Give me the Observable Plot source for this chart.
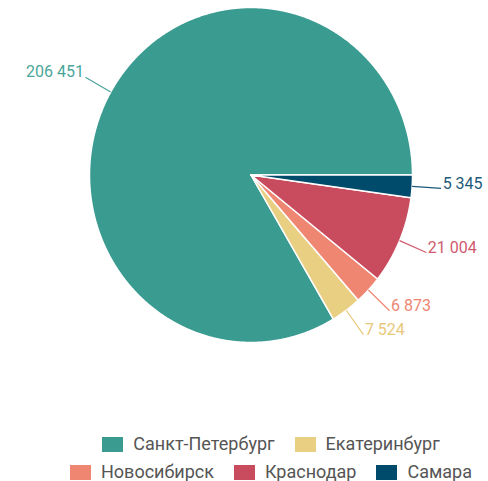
<!DOCTYPE html>
<html><head><meta charset="utf-8">
<script src="https://cdn.jsdelivr.net/npm/d3@7"></script>
<script src="https://cdn.jsdelivr.net/npm/@observablehq/plot@0.6"></script>
<style>
body{margin:0;background:#fff;font-family:Roboto,sans-serif}
#chart{width:488px;height:481px;position:relative;overflow:hidden}
#legend{position:absolute;left:51px;top:430px;width:440px;display:flex;flex-wrap:wrap;justify-content:center;color:#555;font-size:18px}
#legend .item{display:flex;align-items:center;height:28px;margin:0 10px}
#legend .sw{width:21px;height:15px;margin-right:10px}
#legend .tx{line-height:1}
</style></head><body><div id="chart"></div><script>
const cities = ["Санкт-Петербург","Екатеринбург","Новосибирск","Краснодар","Самара"];
const values = [206451,7524,6873,21004,5345];
const colors = ["#3a9b91","#e8cf82","#ee8672","#c84b5e","#004b6b"];
const labelColors = ["#4aa69c","#e8c87a","#ee8672","#d05a6e","#1d5a78"];

const fmt = d3.formatLocale({thousands:"\u00a0", grouping:[3], decimal:","}).format(",d");
const total = d3.sum(values);

// slices counterclockwise from 3 o'clock, unit coordinates
const points = [];
const labels = [];
let a0 = 0;
values.forEach((v, i) => {
  const a1 = a0 + v / total * 2 * Math.PI;
  const n = Math.max(2, Math.ceil((a1 - a0) / 0.005));
  points.push({city: cities[i], x: 0, y: 0});
  for (let k = 0; k <= n; k++) {
    const t = a0 + (a1 - a0) * k / n;
    points.push({city: cities[i], x: Math.cos(t), y: Math.sin(t)});
  }
  points.push({city: cities[i], x: 0, y: 0});
  const m = (a0 + a1) / 2;
  labels.push({city: cities[i], i, text: fmt(values[i]),
    x1: Math.cos(m), y1: Math.sin(m), x2: 1.18 * Math.cos(m), y2: 1.18 * Math.sin(m),
    right: Math.cos(m) >= 0});
  a0 = a1;
});

const chart = Plot.plot({
  width: 488, height: 430,
  margin: 0,
  x: {domain: [-1, 1], range: [89, 412], axis: null},
  y: {domain: [-1, 1], range: [342, 7], axis: null},
  color: {domain: cities, range: colors},
  style: {fontFamily: "Roboto, sans-serif", background: "white"},
  marks: [
    Plot.line(points, {x: "x", y: "y", z: "city", fill: "city", stroke: "white", strokeWidth: 1.5, strokeLinejoin: "round", curve: "linear"}),
    Plot.link(labels, {x1: "x1", y1: "y1", x2: "x2", y2: "y2", stroke: d => labelColors[d.i], strokeWidth: 1.2}),
    Plot.text(labels.filter(d => d.right), {x: "x2", y: "y2", text: "text", fill: d => labelColors[d.i], textAnchor: "start", dx: 1.5, dy: -5, fontSize: 16}),
    Plot.text(labels.filter(d => !d.right), {x: "x2", y: "y2", text: "text", fill: d => labelColors[d.i], textAnchor: "end", dx: -1.5, dy: -5, fontSize: 16})
  ]
});
const root = document.getElementById("chart");
root.appendChild(chart);
const legend = document.createElement("div");
legend.id = "legend";
cities.forEach((c, i) => {
  const it = document.createElement("div"); it.className = "item";
  const sw = document.createElement("span"); sw.className = "sw"; sw.style.background = colors[i];
  const tx = document.createElement("span"); tx.className = "tx"; tx.textContent = c;
  it.appendChild(sw); it.appendChild(tx); legend.appendChild(it);
});
root.appendChild(legend);
</script></body></html>
